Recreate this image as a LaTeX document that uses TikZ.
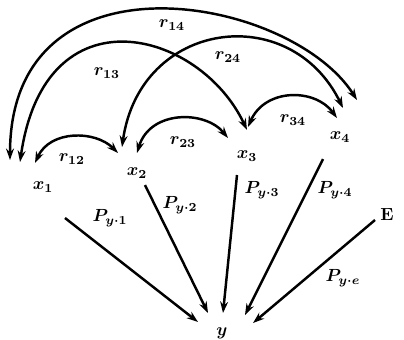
\documentclass[tikz,border=0pt]{standalone}
\usepackage{amsmath}
\usepackage{tikz}
\usetikzlibrary{arrows.meta}

\begin{document}
\begin{tikzpicture}[x=0.02cm,y=-0.02cm,line width=1.4pt,
    >={Stealth[length=6.5pt,width=4.5pt]},
    every node/.style={font=\boldmath},
    corr/.style={<->},
    path/.style={->}]
    \useasboundingbox (0,0) rectangle (404,339);
    % variables
    \node (x1) at (43,187) {$x_1$};
    \node (x2) at (137,173) {$x_2$};
    \node (x3) at (247,156) {$x_3$};
    \node (x4) at (340,137) {$x_4$};
    \node (e) at (387,215) {\textbf{E}};
    \node (y) at (222,333) {$y$};

    % correlations
    \draw[corr] ([shift={(-33,-27)}]x1.center) .. controls (10,-55) and (290,-5) .. ([shift={(17,-37)}]x4.center);
    \draw[corr] ([shift={(-23,-25)}]x1.center) .. controls (45,-12) and (200,30) .. ([shift={(0,-26)}]x3.center);
    \draw[corr] ([shift={(-15,-26)}]x2.center) .. controls (140,20) and (290,0) .. ([shift={(3,-29)}]x4.center);
    \draw[corr] ([shift={(-8,-24)}]x1.center) .. controls (50,130) and (95,130) .. ([shift={(-19,-20)}]x2.center);
    \draw[corr] ([shift={(0,-20)}]x2.center) .. controls (150,110) and (205,110) .. ([shift={(-19,-18)}]x3.center);
    \draw[corr] ([shift={(1,-29)}]x3.center) .. controls (265,88) and (315,88) .. ([shift={(-3,-19)}]x4.center);
    \node at (172,25) {$r_{14}$};
    \node at (107,73) {$r_{13}$};
    \node at (228,57) {$r_{24}$};
    \node at (72,159) {$r_{12}$};
    \node at (183,142) {$r_{23}$};
    \node at (293,120) {$r_{34}$};

    % paths to y
    \draw[path] ([shift={(22,31)}]x1.center) -- ([shift={(-24,-11)}]y.center);
    \draw[path] ([shift={(8,12)}]x2.center) -- ([shift={(-14,-20)}]y.center);
    \draw[path] ([shift={(-10,19)}]x3.center) -- ([shift={(1,-20)}]y.center);
    \draw[path] ([shift={(-17,22)}]x4.center) -- ([shift={(23,-18)}]y.center);
    \draw[path] ([shift={(-12,5)}]e.center) -- ([shift={(31,-10)}]y.center);
    \node at (110,218) {$P_{y\cdot 1}$};
    \node at (180,205) {$P_{y\cdot 2}$};
    \node at (262,190) {$P_{y\cdot 3}$};
    \node at (335,190) {$P_{y\cdot 4}$};
    \node at (343,278) {$P_{y\cdot e}$};
\end{tikzpicture}
\end{document}
